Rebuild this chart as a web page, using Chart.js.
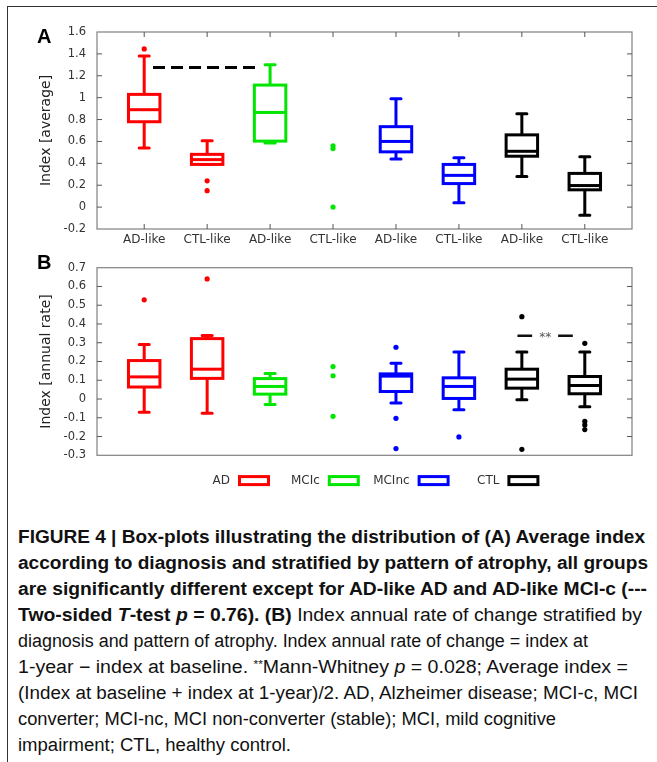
<!DOCTYPE html>
<html><head><meta charset="utf-8">
<script src="https://cdn.jsdelivr.net/npm/chart.js@4.4.0/dist/chart.umd.min.js"></script>
<style>
html,body{margin:0;padding:0;background:#fff;}
body{width:657px;height:762px;overflow:hidden;position:relative;}
#frame{position:absolute;left:7px;top:6px;width:700px;height:800px;border-top:1.5px solid #333;border-left:1.5px solid #333;}
#cA{position:absolute;left:0;top:0;}
#cB{position:absolute;left:0;top:240px;}
#caption{position:absolute;left:18px;top:524px;font-family:"Liberation Sans Narrow","Liberation Sans",Arial,sans-serif;font-size:18px;line-height:26px;color:#111;}
#caption .ln{white-space:nowrap;transform-origin:0 50%;width:max-content;}
#caption sup{font-size:11px;vertical-align:5px;line-height:0;}
</style></head><body>
<div id="frame"></div>
<canvas id="cA" width="657" height="252" style="width:657px;height:252px"></canvas>
<canvas id="cB" width="657" height="262" style="width:657px;height:262px"></canvas>
<div id="caption">
<div class="ln"><b>FIGURE 4 | Box-plots illustrating the distribution of (A) Average index</b></div>
<div class="ln"><b>according to diagnosis and stratified by pattern of atrophy, all groups</b></div>
<div class="ln"><b>are significantly different except for AD-like AD and AD-like MCI-c (---</b></div>
<div class="ln"><b>Two-sided <i>T</i>-test <i>p</i> = 0.76). (B)</b> Index annual rate of change stratified by</div>
<div class="ln">diagnosis and pattern of atrophy. Index annual rate of change = index at</div>
<div class="ln">1-year − index at baseline. <sup>**</sup>Mann-Whitney <i>p</i> = 0.028; Average index =</div>
<div class="ln">(Index at baseline + index at 1-year)/2. AD, Alzheimer disease; MCI-c, MCI</div>
<div class="ln">converter; MCI-nc, MCI non-converter (stable); MCI, mild cognitive</div>
<div class="ln">impairment; CTL, healthy control.</div>
</div>
<script>
// ---------- data ----------
const categories = ['AD-like','CTL-like','AD-like','CTL-like','AD-like','CTL-like','AD-like','CTL-like'];
const xPositions = [1,2,3,4,5,6,7,8];
const groupNames = ['AD','MCIc','MCInc','CTL'];
const groupColors = ['#ff0000','#00e600','#0000ff','#000000'];
const categoryGroup = [0,0,1,1,2,2,3,3];

// Panel A: average index
const avgTicks = [-0.2,0,0.2,0.4,0.6,0.8,1,1.2,1.4,1.6];
const avgTickLabels = ['-0.2','0','0.2','0.4','0.6','0.8','1','1.2','1.4','1.6'];
const avgMin    = [0.54, 0.39, 0.585, null, 0.44, 0.04, 0.28, -0.075];
const avgQ1     = [0.78, 0.39, 0.603, null, 0.505, 0.215, 0.465, 0.158];
const avgMedian = [0.89, 0.434, 0.865, null, 0.60, 0.29, 0.51, 0.197];
const avgQ3     = [1.03, 0.482, 1.115, null, 0.735, 0.39, 0.66, 0.308];
const avgMax    = [1.38, 0.606, 1.30, null, 0.99, 0.452, 0.852, 0.46];
const avgOutliers = [[1.445],[0.24,0.15],[],[0.56,0.535,0.0],[],[],[],[]];
const avgSig = [1.14, 2.76, 1.275]; // from x, to x, y (dashed, t-test)

// Panel B: annual rate
const rateTicks = [-0.3,-0.2,-0.1,0,0.1,0.2,0.3,0.4,0.5,0.6,0.7];
const rateTickLabels = ['-0.3','-0.2','-0.1','0','0.1','0.2','0.3','0.4','0.5','0.6','0.7'];
const rateMin    = [-0.071, -0.076, -0.029, null, -0.021, -0.057, -0.004, -0.041];
const rateQ1     = [0.064, 0.11, 0.026, null, 0.04, 0.003, 0.058, 0.028];
const rateMedian = [0.118, 0.159, 0.067, null, 0.122, 0.067, 0.106, 0.072];
const rateQ3     = [0.205, 0.322, 0.109, null, 0.134, 0.113, 0.159, 0.12];
const rateMax    = [0.29, 0.338, 0.136, null, 0.191, 0.251, 0.25, 0.25];
const rateOutliers = [[0.529],[0.64],[],[0.173,0.124,-0.092],[0.276,-0.103,-0.264],[-0.202],[0.439,-0.268],[0.297,-0.119,-0.138,-0.163]];
const rateSig = [6.93, 7.81, 0.337, '**']; // Mann-Whitney

// ---------- helpers ----------
Chart.defaults.font.family = "'DejaVu Sans', sans-serif";
Chart.defaults.color = '#333';
Chart.defaults.animation = false;

function outlierDatasets(outliers) {
  return groupNames.map((name, g) => {
    const data = [];
    outliers.forEach((vals, i) => {
      if (categoryGroup[i] === g) vals.forEach(v => data.push({x: xPositions[i], y: v}));
    });
    return {label: name, data, backgroundColor: groupColors[g], borderColor: groupColors[g],
      pointRadius: 2.6, pointBorderWidth: 0, pointHoverRadius: 2.6};
  });
}

function boxPlugin(stats, opts) {
  return {
    id: 'boxplot' + opts.letter,
    afterDatasetsDraw(chart) {
      const {ctx, chartArea: ca} = chart;
      const xs = chart.scales.x, ys = chart.scales.y;
      ctx.save();
      ctx.strokeStyle = '#808080'; ctx.lineWidth = 1.2;
      ctx.strokeRect(ca.left, ca.top, ca.right - ca.left, ca.bottom - ca.top);
      ctx.strokeStyle = '#555'; ctx.lineWidth = 1;
      ctx.beginPath();
      ys.ticks.forEach(t => {
        const py = ys.getPixelForValue(t.value);
        if (py > ca.top + 1 && py < ca.bottom - 1) {
          ctx.moveTo(ca.left, py); ctx.lineTo(ca.left + 5, py);
          ctx.moveTo(ca.right, py); ctx.lineTo(ca.right - 5, py);
        }
      });
      if (opts.xTicks) xPositions.forEach(v => {
        const px = xs.getPixelForValue(v);
        ctx.moveTo(px, ca.top); ctx.lineTo(px, ca.top + 5);
        ctx.moveTo(px, ca.bottom); ctx.lineTo(px, ca.bottom - 5);
      });
      ctx.stroke();
      const halfBox = xs.getPixelForValue(1.25) - xs.getPixelForValue(1);
      const halfCap = xs.getPixelForValue(1.08) - xs.getPixelForValue(1);
      stats.median.forEach((med, i) => {
        if (med === null) return;
        const px = xs.getPixelForValue(xPositions[i]);
        const yMin = ys.getPixelForValue(stats.min[i]);
        const yQ1 = ys.getPixelForValue(stats.q1[i]);
        const yMed = ys.getPixelForValue(med);
        const yQ3 = ys.getPixelForValue(stats.q3[i]);
        const yMax = ys.getPixelForValue(stats.max[i]);
        ctx.strokeStyle = groupColors[categoryGroup[i]];
        ctx.lineWidth = 3; ctx.lineCap = 'butt'; ctx.lineJoin = 'miter';
        ctx.beginPath();
        ctx.moveTo(px, yQ3); ctx.lineTo(px, yMax);
        ctx.moveTo(px, yQ1); ctx.lineTo(px, yMin);
        ctx.stroke();
        ctx.lineCap = 'round';
        ctx.beginPath();
        ctx.moveTo(px - halfCap, yMax); ctx.lineTo(px + halfCap, yMax);
        ctx.moveTo(px - halfCap, yMin); ctx.lineTo(px + halfCap, yMin);
        ctx.stroke();
        ctx.lineCap = 'butt';
        ctx.strokeRect(px - halfBox, yQ3, 2 * halfBox, yQ1 - yQ3);
        ctx.beginPath();
        ctx.moveTo(px - halfBox, yMed); ctx.lineTo(px + halfBox, yMed);
        ctx.stroke();
      });
      // panel letter
      ctx.fillStyle = '#000';
      ctx.font = "bold 20px 'Liberation Sans', Arial, sans-serif";
      ctx.textAlign = 'left'; ctx.textBaseline = 'alphabetic';
      ctx.fillText(opts.letter, 37, ca.top + opts.letterDy);
      if (opts.after) opts.after(chart, ctx, xs, ys, ca);
      ctx.restore();
    }
  };
}

function yScale(ticks, labels, title) {
  return {
    min: ticks[0], max: ticks[ticks.length - 1],
    afterBuildTicks: s => { s.ticks = ticks.map(v => ({value: v})); },
    afterFit: s => { s.width = 97; },
    grid: {display: false, drawTicks: false}, border: {display: false},
    ticks: {autoSkip: false, padding: 11, color: '#333', font: {size: 11.5},
      callback: (v, i) => labels[i]},
    title: {display: true, text: title, color: '#222', font: {size: 14}, padding: {top: 38, bottom: 0}}
  };
}

// ---------- Panel A ----------
new Chart(document.getElementById('cA'), {
  type: 'scatter',
  data: {datasets: outlierDatasets(avgOutliers)},
  options: {
    responsive: false, animation: false,
    layout: {padding: {top: 32, right: 25, left: 0, bottom: 0}},
    plugins: {legend: {display: false}, tooltip: {enabled: false}},
    scales: {
      x: {min: 0.25, max: 8.75,
        afterBuildTicks: s => { s.ticks = xPositions.map(v => ({value: v})); },
        afterFit: s => { s.height = 23; },
        grid: {display: false, drawTicks: false}, border: {display: false},
        ticks: {autoSkip: false, maxRotation: 0, padding: 4, color: '#333', font: {size: 12},
          callback: (v, i) => categories[i]}},
      y: yScale(avgTicks, avgTickLabels, 'Index [average]')
    }
  },
  plugins: [boxPlugin({min: avgMin, q1: avgQ1, median: avgMedian, q3: avgQ3, max: avgMax},
    {letter: 'A', letterDy: 11, xTicks: true,
     after: (chart, ctx, xs, ys) => {
       ctx.strokeStyle = '#000'; ctx.lineWidth = 3; ctx.setLineDash([12, 6]);
       ctx.beginPath();
       ctx.moveTo(xs.getPixelForValue(avgSig[0]), ys.getPixelForValue(avgSig[2]));
       ctx.lineTo(xs.getPixelForValue(avgSig[1]), ys.getPixelForValue(avgSig[2]));
       ctx.stroke(); ctx.setLineDash([]);
     }})]
});

// ---------- Panel B ----------
new Chart(document.getElementById('cB'), {
  type: 'scatter',
  data: {datasets: outlierDatasets(rateOutliers)},
  options: {
    responsive: false, animation: false,
    layout: {padding: {top: 27.7, right: 25, left: 0, bottom: 46.7}},
    plugins: {legend: {display: false}, tooltip: {enabled: false}},
    scales: {
      x: {display: false, min: 0.25, max: 8.75},
      y: yScale(rateTicks, rateTickLabels, 'Index [annual rate]')
    }
  },
  plugins: [boxPlugin({min: rateMin, q1: rateQ1, median: rateMedian, q3: rateQ3, max: rateMax},
    {letter: 'B', letterDy: 1.5, xTicks: false,
     after: (chart, ctx, xs, ys, ca) => {
       // significance marker
       const y = ys.getPixelForValue(rateSig[2]);
       const x0 = xs.getPixelForValue(rateSig[0]), x1 = xs.getPixelForValue(rateSig[1]);
       const xm = (x0 + x1) / 2;
       ctx.strokeStyle = '#111'; ctx.lineWidth = 2.5;
       ctx.beginPath();
       ctx.moveTo(x0, y); ctx.lineTo(xm - 13, y);
       ctx.moveTo(xm + 13, y); ctx.lineTo(x1, y);
       ctx.stroke();
       ctx.fillStyle = '#555'; ctx.font = "12px 'DejaVu Sans'";
       ctx.textAlign = 'center'; ctx.textBaseline = 'middle';
       ctx.fillText(rateSig[3], xm, y + 2);
       // legend
       ctx.font = "12px 'DejaVu Sans'"; ctx.textAlign = 'right';
       const cy = ca.bottom + 25.3;
       groupNames.forEach((name, g) => {
         const bx = ca.left + 142.5 + 89.8 * g;
         ctx.fillStyle = '#333';
         ctx.fillText(name, bx - 9.5, cy);
         ctx.strokeStyle = groupColors[g]; ctx.lineWidth = 3;
         ctx.strokeRect(bx, cy - 4, 29, 8);
       });
     }})]
});

// ---------- caption line fitting ----------
const lineRightEdges = [645, 648, 647, 642, 588, 628, 638, 556, 291];
document.querySelectorAll('#caption .ln').forEach((el, i) => {
  const w = el.getBoundingClientRect().width;
  el.style.transform = 'scaleX(' + ((lineRightEdges[i] - 18) / w) + ')';
});
</script>
</body></html>
